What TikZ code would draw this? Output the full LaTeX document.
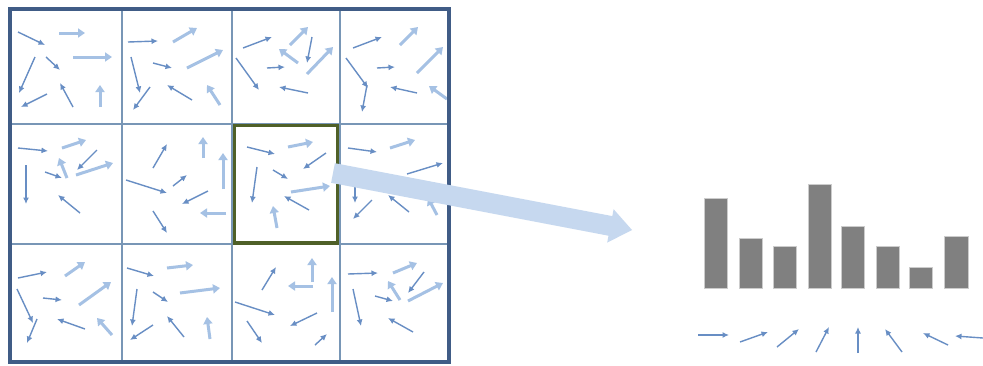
\documentclass[tikz,border=0pt]{standalone}
\usetikzlibrary{arrows.meta}
\definecolor{arrblue}{RGB}{104,142,196}
\definecolor{arrlight}{RGB}{165,193,228}
\definecolor{gridline}{RGB}{120,150,182}
\definecolor{frameblue}{RGB}{64,92,134}
\definecolor{hlgreen}{RGB}{79,96,40}
\definecolor{bigarrow}{RGB}{198,216,239}
\definecolor{bargray}{RGB}{128,128,128}
\tikzset{
  thinarr/.style={draw=arrblue, line width=1.4pt, -{Latex[length=6.5pt,width=6pt]}},
  thickarr/.style={draw=arrlight, line width=3pt, -{Triangle[length=7pt,width=9pt]}},
  barbox/.style={fill=bargray, draw=black!20, line width=0.6pt},
}
\begin{document}
\begin{tikzpicture}[x=1pt,y=-1pt]
\useasboundingbox[fill=white] (0,0) rectangle (983,365);
% grid
\fill[white] (10,9) rectangle (449,362);
\foreach \x in {122,232,340} \draw[gridline, line width=1.3pt] (\x,9) -- (\x,362);
\foreach \y in {124,244} \draw[gridline, line width=1.3pt] (10,\y) -- (449,\y);
% thin arrows
\foreach \a/\b/\c/\d in {
 18/32/45/45, 35/57/19/93, 46/57/60/70, 47/94/21/107, 73/107/60/83,
 128/42/158/41, 131/57/140/93, 153/63/172/68, 150/87/133/110, 192/100/167/85,
 243/48/272/37, 312/37/307/63, 267/68/285/67, 236/58/259/90, 308/93/279/87,
 353/48/382/37, 377/68/395/67, 346/58/368/88, 367/85/362/112, 417/93/390/87,
 18/148/48/151, 26/165/26/204, 45/172/62/178, 97/150/77/170, 80/213/58/195,
 153/168/167/144, 126/180/167/193, 173/186/187/175, 208/191/182/204, 153/211/167/233,
 247/147/275/154, 326/153/303/169, 257/167/252/203, 273/170/288/179, 309/210/284/196,
 348/148/377/152, 407/174/443/163, 355/183/355/203, 372/200/353/219, 409/212/388/195,
 18/278/47/272, 43/298/62/300, 17/289/33/323, 37/319/27/343, 85/329/57/319,
 127/268/154/276, 153/292/168/302, 137/289/132/326, 153/325/130/340, 184/337/167/316,
 262/290/276/267, 235/302/275/315, 317/313/290/326, 247/321/262/343, 315/345/327/334,
 348/274/378/273, 424/272/408/293, 375/296/393/301, 353/289/361/326, 413/332/388/318}
 \draw[thinarr] (\a,\b) -- (\c,\d);
% thick light arrows
\foreach \a/\b/\c/\d in {
 59/33/85/33, 73/57/112/57, 100/107/100/85,
 173/42/197/28, 187/68/223/50, 220/105/207/85,
 290/45/308/27, 298/63/279/49, 307/74/333/47,
 400/45/418/27, 417/73/443/47, 447/99/429/86,
 62/148/86/140, 67/178/59/158, 76/175/113/163,
 203/158/203/137, 223/189/223/153, 226/213/200/213,
 288/147/313/142, 291/192/330/186, 277/228/273/206,
 390/148/415/140, 437/215/428/198,
 65/276/85/262, 79/305/111/282, 112/335/97/318,
 167/268/193/265, 180/293/220/288, 210/339/207/317,
 312/282/312/258, 313/286/288/286, 332/312/332/277,
 393/273/417/263, 400/300/388/281, 408/301/443/283}
 \draw[thickarr] (\a,\b) -- (\c,\d);
% highlighted cell
\draw[hlgreen, line width=3.5pt] (234.5,125.5) rectangle (337.5,243);
% outer frame
\draw[frameblue, line width=3.2pt] (10,9) rectangle (449,362);
% big arrow
\fill[bigarrow] (334.9,163.2) -- (612.3,216.1) -- (613.6,209.2) -- (632,230)
  -- (607.2,242.6) -- (608.5,235.7) -- (331.1,182.8) -- cycle;
% histogram
\node[barbox, minimum width=23pt, minimum height=90pt, anchor=south west, inner sep=0pt] (b1) at (704,289) {};
\node[barbox, minimum width=23pt, minimum height=50pt, anchor=south west, inner sep=0pt] (b2) at (739,289) {};
\node[barbox, minimum width=23pt, minimum height=42pt, anchor=south west, inner sep=0pt] (b3) at (773,289) {};
\node[barbox, minimum width=23pt, minimum height=104pt, anchor=south west, inner sep=0pt] (b4) at (808,289) {};
\node[barbox, minimum width=23pt, minimum height=62pt, anchor=south west, inner sep=0pt] (b5) at (841,289) {};
\node[barbox, minimum width=23pt, minimum height=42pt, anchor=south west, inner sep=0pt] (b6) at (876,289) {};
\node[barbox, minimum width=23pt, minimum height=21pt, anchor=south west, inner sep=0pt] (b7) at (909,289) {};
\node[barbox, minimum width=24pt, minimum height=52pt, anchor=south west, inner sep=0pt] (b8) at (944,289) {};
% orientation arrows
\foreach \a/\b/\c/\d in {
 698/335/729/335, 740/342/768/332, 777/347/799/329, 816/352/829/327,
 858/353/858/327, 902/352/885/329, 948/345/923/333, 983/338/955/336}
 \draw[thinarr] (\a,\b) -- (\c,\d);
\end{tikzpicture}
\end{document}
